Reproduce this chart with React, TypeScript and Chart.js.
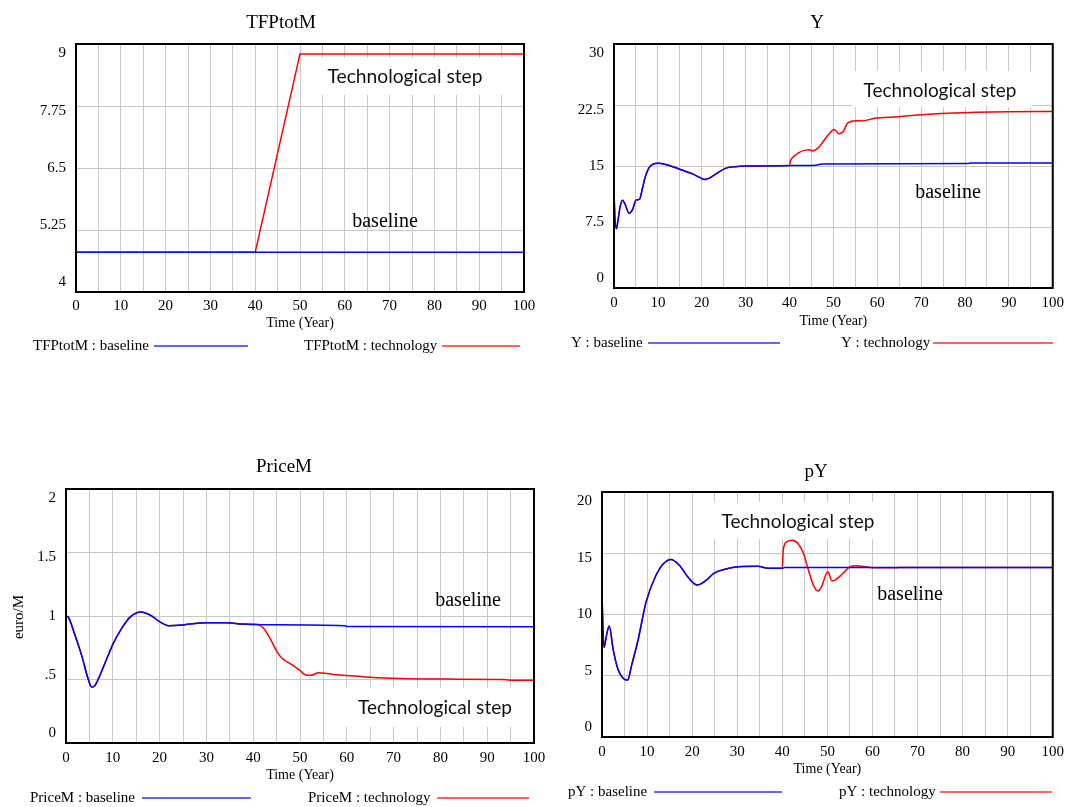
import React, { useEffect, useRef } from "react";
import { Chart, registerables } from "chart.js";

Chart.register(...registerables);

// ---------------- data ----------------
const xTickValues = [0, 5, 10, 15, 20, 25, 30, 35, 40, 45, 50, 55, 60, 65, 70, 75, 80, 85, 90, 95, 100];

// TFPtotM
const tfpTime = [0, 40, 50, 100];
const tfpBaseline = [4.8, 4.8, 4.8, 4.8];
const tfpTechnology = [4.8, 4.8, 8.8, 8.8];
const tfpTicks = [4, 5.25, 6.5, 7.75, 9];
const tfpTickLabels = ["4", "5.25", "6.5", "7.75", "9"];

// Y
const yBaseTime = [0, 0.25, 0.55, 0.9, 1.4, 1.95, 2.6, 3.4, 4.2, 5.0, 5.8, 6.5, 7.1, 7.7, 8.3, 9.0, 10.0, 12.0, 15.0, 18.0, 19.5, 20.5, 21.5, 23.1, 25.4, 27.6, 30.3, 40, 46, 47.5, 80.5, 81.5, 100];
const yBaseline = [11.8, 8.2, 7.3, 8.3, 10.0, 10.8, 10.2, 9.2, 9.6, 10.8, 10.9, 12.3, 13.6, 14.5, 15.0, 15.25, 15.35, 15.15, 14.6, 14.0, 13.6, 13.35, 13.45, 13.97, 14.71, 14.92, 15.0, 15.05, 15.1, 15.25, 15.3, 15.38, 15.38];
const yStepTime = [40, 40.2, 41, 42, 43.5, 44.5, 45.2, 46.5, 47.8, 48.8, 50.2, 51.3, 52.2, 53.3, 55.3, 56.4, 59.4, 64.8, 69.3, 74.7, 82.3, 89.9, 100];
const yStep = [15.05, 15.6, 16.2, 16.6, 16.95, 17.0, 16.85, 17.2, 18.1, 18.8, 19.5, 18.95, 19.2, 20.3, 20.57, 20.53, 20.86, 21.06, 21.27, 21.47, 21.6, 21.67, 21.7];
const yTicks = [0, 7.5, 15, 22.5, 30];
const yTickLabels = ["0", "7.5", "15", "22.5", "30"];

// PriceM
const priceBaseTime = [0, 0.5, 2.0, 3.5, 4.6, 5.5, 6.0, 6.8, 8.6, 10.1, 11.9, 13.8, 16.0, 18.2, 20.0, 21.9, 24.8, 27.0, 30.0, 34.4, 37.4, 41.8, 59.5, 60.0, 100];
const priceBaseline = [1.0, 0.99, 0.84, 0.67, 0.52, 0.44, 0.445, 0.495, 0.653, 0.784, 0.903, 0.995, 1.032, 1.003, 0.955, 0.924, 0.929, 0.939, 0.947, 0.947, 0.937, 0.932, 0.924, 0.918, 0.916];
const priceStepTime = [41.0, 42.2, 43.6, 45.1, 46.2, 48.4, 49.9, 51.4, 52.5, 53.9, 55.8, 58.0, 62.4, 66.8, 73.5, 81.6, 93.4, 94.8, 100];
const priceStep = [0.934, 0.903, 0.824, 0.718, 0.666, 0.613, 0.574, 0.534, 0.534, 0.553, 0.547, 0.537, 0.526, 0.513, 0.505, 0.503, 0.5, 0.495, 0.495];
const priceTicks = [0, 0.5, 1, 1.5, 2];
const priceTickLabels = ["0", ".5", "1", "1.5", "2"];

// pY
const pyBaseTime = [0, 0.2, 0.45, 1.0, 1.6, 2.5, 3.6, 4.7, 5.4, 5.8, 6.5, 8.0, 9.8, 12.0, 13.5, 15.3, 17.1, 19.3, 21.1, 23.0, 24.8, 27.3, 30.3, 34.6, 36.8, 40.0, 40.5, 100];
const pyBaseline = [11.8, 9.0, 7.3, 8.3, 9.06, 7.1, 5.47, 4.79, 4.65, 4.7, 5.74, 7.92, 11.05, 13.22, 14.1, 14.5, 14.04, 12.95, 12.41, 12.76, 13.36, 13.69, 13.9, 13.93, 13.77, 13.77, 13.84, 13.84];
const pyStepTime = [40.0, 40.2, 41.0, 42.2, 43.6, 44.7, 45.8, 46.9, 47.9, 48.7, 50.1, 51.0, 51.7, 53.2, 55.0, 56.5, 58.7, 60.2, 65.0, 66.0, 100];
const pyStep = [13.77, 15.25, 15.93, 16.06, 15.74, 14.98, 13.62, 12.4, 11.91, 12.27, 13.49, 12.75, 12.81, 13.27, 13.89, 13.98, 13.89, 13.81, 13.81, 13.84, 13.84];
const pyTicks = [0, 5, 10, 15, 20];
const pyTickLabels = ["0", "5", "10", "15", "20"];

// ---------------- styles ----------------
const PAGE_W = 1070;
const PAGE_H = 807;
const SERIF = '"Liberation Serif", "Times New Roman", serif';
const SANS = 'Lato, "Open Sans", sans-serif';
const BLUE = "#0000ff";
const RED = "#ff0000";
const LEG_BLUE = "#6464ff";
const LEG_RED = "#ff6464";
const GRID = "#c8c8c8";

type Pt = { x: number; y: number };
const pts = (t: number[], v: number[]): Pt[] => t.map((x, i) => ({ x, y: v[i] }));
const joinAt = (t: number[], v: number[], st: number[], sv: number[]): Pt[] => [
  ...pts(t, v).filter((p) => p.x < st[0]),
  ...pts(st, sv),
];

interface PanelSpec {
  name: string;
  area: { l: number; t: number; r: number; b: number };
  yTicks: number[];
  yLabels: string[];
  baseline: Pt[];
  technology: Pt[];
  smooth: boolean;
  title: { x: number; y: number };
  tickPad: number;
  axisH: number;
  yTitle?: { text: string; x: number; y: number };
  stepBox: { x: number; y: number; w: number; h: number };
  stepText: { x: number; y: number; w: number };
  baseText: { x: number; y: number };
  legend: { y: number; bx: number; bl: [number, number]; tx: number; tl: [number, number] };
}

const panels: PanelSpec[] = [
  {
    name: "TFPtotM",
    area: { l: 76, t: 44, r: 524, b: 292 },
    yTicks: tfpTicks,
    yLabels: tfpTickLabels,
    baseline: pts(tfpTime, tfpBaseline),
    technology: pts(tfpTime, tfpTechnology),
    smooth: false,
    title: { x: 281, y: 23 },
    tickPad: 5,
    axisH: 39.5,
    stepBox: { x: 305, y: 58, w: 200, h: 37 },
    stepText: { x: 405, y: 77, w: 155 },
    baseText: { x: 385, y: 222 },
    legend: { y: 346, bx: 33, bl: [154, 248], tx: 304, tl: [442, 520] },
  },
  {
    name: "Y",
    area: { l: 614, t: 44, r: 1058, b: 288 },
    yTicks: yTicks,
    yLabels: yTickLabels,
    baseline: pts(yBaseTime, yBaseline),
    technology: joinAt(yBaseTime, yBaseline, yStepTime, yStep),
    smooth: true,
    title: { x: 817, y: 23 },
    tickPad: 6,
    axisH: 41.4,
    stepBox: { x: 852, y: 71, w: 180, h: 36 },
    stepText: { x: 940, y: 91, w: 153 },
    baseText: { x: 948, y: 193 },
    legend: { y: 343, bx: 571, bl: [648, 780], tx: 841, tl: [933, 1053] },
  },
  {
    name: "PriceM",
    area: { l: 66, t: 489, r: 534, b: 743 },
    yTicks: priceTicks,
    yLabels: priceTickLabels,
    baseline: pts(priceBaseTime, priceBaseline),
    technology: joinAt(priceBaseTime, priceBaseline, priceStepTime, priceStep),
    smooth: true,
    title: { x: 284, y: 467 },
    tickPad: 6,
    axisH: 40.4,
    yTitle: { text: "euro/M", x: 19, y: 617 },
    stepBox: { x: 345, y: 688, w: 180, h: 39 },
    stepText: { x: 435, y: 708, w: 154 },
    baseText: { x: 468, y: 601 },
    legend: { y: 798, bx: 30, bl: [142, 251], tx: 308, tl: [437, 529] },
  },
  {
    name: "pY",
    area: { l: 602, t: 492, r: 1058, b: 737 },
    yTicks: pyTicks,
    yLabels: pyTickLabels,
    baseline: pts(pyBaseTime, pyBaseline),
    technology: joinAt(pyBaseTime, pyBaseline, pyStepTime, pyStep),
    smooth: true,
    title: { x: 816, y: 472 },
    tickPad: 6,
    axisH: 40.4,
    stepBox: { x: 714, y: 502, w: 162, h: 37 },
    stepText: { x: 798, y: 522, w: 153 },
    baseText: { x: 910, y: 595 },
    legend: { y: 792, bx: 568, bl: [654, 782], tx: 839, tl: [940, 1052] },
  },
];

function makePlugin(p: PanelSpec) {
  return {
    id: "vensim" + p.name,
    beforeDatasetsDraw(chart: any) {
      const ctx = chart.ctx as CanvasRenderingContext2D;
      ctx.save();
      ctx.fillStyle = "#ffffff";
      ctx.fillRect(p.stepBox.x, p.stepBox.y, p.stepBox.w, p.stepBox.h);
      ctx.restore();
    },
    afterDatasetsDraw(chart: any) {
      const ctx = chart.ctx as CanvasRenderingContext2D;
      const a = chart.chartArea;
      const ys = chart.scales.y;
      ctx.save();
      // frame
      ctx.strokeStyle = "#000";
      ctx.lineWidth = 2;
      ctx.strokeRect(a.left, a.top, a.right - a.left, a.bottom - a.top);
      // y tick labels (Vensim style, inset at the ends)
      ctx.fillStyle = "#000";
      ctx.font = `15px ${SERIF}`;
      ctx.textAlign = "right";
      ctx.textBaseline = "middle";
      const inset = 9.5;
      const h = a.bottom - a.top;
      ys.ticks.forEach((tk: any) => {
        const idx = p.yTicks.indexOf(tk.value);
        if (idx < 0) return;
        const py = ys.getPixelForValue(tk.value);
        const ly = a.top + inset + ((py - a.top) / h) * (h - 2 * inset);
        ctx.fillText(p.yLabels[idx], a.left - 10, ly);
      });
      // title
      ctx.textAlign = "center";
      ctx.font = `19px ${SERIF}`;
      ctx.fillText(p.name, p.title.x, p.title.y);
      // y title
      if (p.yTitle) {
        ctx.save();
        ctx.translate(p.yTitle.x, p.yTitle.y);
        ctx.rotate(-Math.PI / 2);
        ctx.font = `15px ${SERIF}`;
        ctx.fillText(p.yTitle.text, 0, 0);
        ctx.restore();
      }
      // annotations
      ctx.font = `20px ${SANS}`;
      const mw = ctx.measureText("Technological step").width;
      const fs = (20 * p.stepText.w) / mw;
      ctx.font = `${fs.toFixed(2)}px ${SANS}`;
      ctx.fillStyle = "#111";
      ctx.fillText("Technological step", p.stepText.x, p.stepText.y);
      ctx.fillStyle = "#000";
      ctx.font = `20px ${SERIF}`;
      ctx.fillText("baseline", p.baseText.x, p.baseText.y);
      // legend
      ctx.font = `15px ${SERIF}`;
      ctx.textAlign = "left";
      ctx.fillText(`${p.name} : baseline`, p.legend.bx, p.legend.y);
      ctx.fillText(`${p.name} : technology`, p.legend.tx, p.legend.y);
      ctx.lineWidth = 2;
      ctx.strokeStyle = LEG_BLUE;
      ctx.beginPath();
      ctx.moveTo(p.legend.bl[0], p.legend.y);
      ctx.lineTo(p.legend.bl[1], p.legend.y);
      ctx.stroke();
      ctx.strokeStyle = LEG_RED;
      ctx.beginPath();
      ctx.moveTo(p.legend.tl[0], p.legend.y);
      ctx.lineTo(p.legend.tl[1], p.legend.y);
      ctx.stroke();
      ctx.restore();
    },
  };
}

function buildConfig(p: PanelSpec): any {
  const interp = p.smooth ? "monotone" : "default";
  return {
    type: "line",
    data: {
      datasets: [
        {
          label: `${p.name} : baseline`,
          data: p.baseline,
          borderColor: BLUE,
          borderWidth: 1.5,
          pointRadius: 0,
          tension: 0,
          cubicInterpolationMode: interp,
          fill: false,
        },
        {
          label: `${p.name} : technology`,
          data: p.technology,
          borderColor: RED,
          borderWidth: 1.5,
          pointRadius: 0,
          tension: 0,
          cubicInterpolationMode: interp,
          fill: false,
        },
      ],
    },
    options: {
      responsive: false,
      animation: false,
      devicePixelRatio: 1,
      events: [],
      layout: {
        padding: {
          left: p.area.l,
          top: p.area.t,
          right: PAGE_W - p.area.r,
          bottom: PAGE_H - p.area.b - p.axisH,
        },
      },
      plugins: {
        legend: { display: false },
        title: { display: false },
        tooltip: { enabled: false },
      },
      scales: {
        x: {
          type: "linear",
          min: 0,
          max: 100,
          afterBuildTicks: (s: any) => {
            s.ticks = xTickValues.map((v) => ({ value: v }));
          },
          ticks: {
            autoSkip: false,
            maxRotation: 0,
            padding: p.tickPad,
            color: "#000",
            font: { family: SERIF, size: 15 },
            callback: (v: any) => (Number(v) % 10 === 0 ? String(v) : ""),
          },
          grid: { color: GRID, lineWidth: 1, drawTicks: false },
          border: { display: false },
          title: {
            display: true,
            text: "Time (Year)",
            color: "#000",
            font: { family: SERIF, size: 14 },
            padding: 0,
          },
          afterFit: (s: any) => {
            s.height = p.axisH;
          },
        },
        y: {
          type: "linear",
          min: p.yTicks[0],
          max: p.yTicks[p.yTicks.length - 1],
          afterBuildTicks: (s: any) => {
            s.ticks = p.yTicks.map((v) => ({ value: v }));
          },
          ticks: { display: false },
          grid: { color: GRID, lineWidth: 1, drawTicks: false },
          border: { display: false },
          afterFit: (s: any) => {
            s.width = 0;
          },
        },
      },
    },
    plugins: [makePlugin(p)],
  };
}

function Panel({ spec }: { spec: PanelSpec }) {
  const ref = useRef<HTMLCanvasElement>(null);
  useEffect(() => {
    if (!ref.current) return;
    const chart = new Chart(ref.current, buildConfig(spec));
    return () => chart.destroy();
  }, [spec]);
  return (
    <canvas
      ref={ref}
      width={PAGE_W}
      height={PAGE_H}
      style={{ position: "absolute", left: 0, top: 0, width: PAGE_W, height: PAGE_H }}
    />
  );
}

export default function App() {
  return (
    <div
      style={{
        position: "absolute",
        left: 0,
        top: 0,
        width: PAGE_W,
        height: PAGE_H,
        background: "#fff",
        overflow: "hidden",
      }}
    >
      {panels.map((p) => (
        <Panel key={p.name} spec={p} />
      ))}
    </div>
  );
}
